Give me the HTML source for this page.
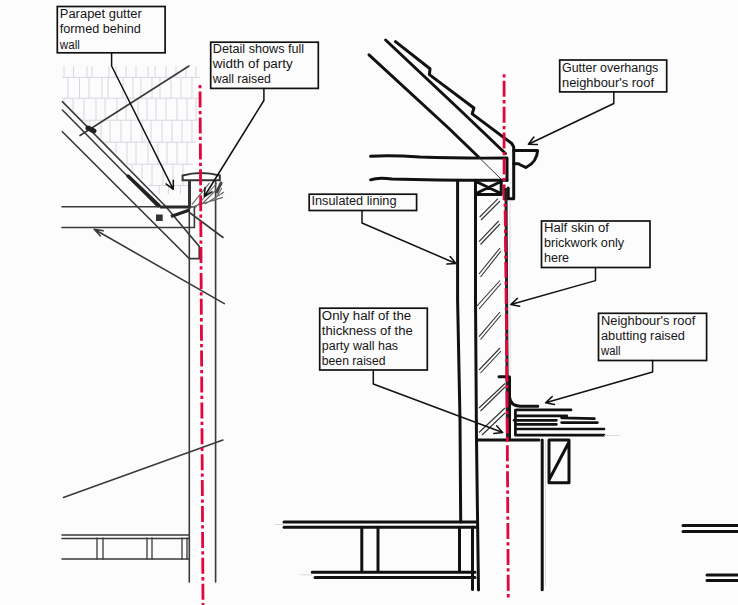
<!DOCTYPE html>
<html><head><meta charset="utf-8">
<style>
html,body{margin:0;padding:0;background:#fdfcfd;}
body{width:738px;height:605px;overflow:hidden;position:relative;}
svg{position:absolute;left:0;top:0;}
.t{font-family:"Liberation Sans",sans-serif;font-size:12.5px;fill:#151515;}
</style></head><body>
<svg width="738" height="605" viewBox="0 0 738 605">
<defs>
<clipPath id="tc"><path d="M62 60H203V200L171 207L62 101.6Z"/></clipPath>
</defs>
<rect width="738" height="605" fill="#fdfcfd"/>
<!-- tiles -->
<g clip-path="url(#tc)"><path d="M62 77.4H200M62 98.2H199M62 120.2H197M62 142.2H196M62 164.2H193M62 185.5H189M64 66V77.4M73.5 66V77.4M87 66V77.4M92 66V77.4M109 66V77.4M116 66V77.4M126 66V77.4M136 66V77.4M148 66V77.4M155 66V77.4M166 66V77.4M176 66V77.4M186 66V77.4M196 66V77.4M68 77.4V98.2M79.5 77.4V98.2M89 77.4V98.2M102 77.4V98.2M108 77.4V98.2M123 77.4V98.2M133 77.4V98.2M141 77.4V98.2M152 77.4V98.2M160 77.4V98.2M171 77.4V98.2M181 77.4V98.2M192 77.4V98.2M64 98.2V120.2M73 98.2V120.2M84 98.2V120.2M96 98.2V120.2M105 98.2V120.2M117 98.2V120.2M126 98.2V120.2M138 98.2V120.2M147 98.2V120.2M156 98.2V120.2M166 98.2V120.2M177 98.2V120.2M187 98.2V120.2M196 98.2V120.2M68 120.2V142.2M78 120.2V142.2M90 120.2V142.2M101 120.2V142.2M110 120.2V142.2M121 120.2V142.2M131 120.2V142.2M142 120.2V142.2M151 120.2V142.2M162 120.2V142.2M172 120.2V142.2M182 120.2V142.2M192 120.2V142.2M64 142.2V164.2M75 142.2V164.2M86 142.2V164.2M95 142.2V164.2M106 142.2V164.2M116 142.2V164.2M127 142.2V164.2M136 142.2V164.2M148 142.2V164.2M158 142.2V164.2M167 142.2V164.2M177 142.2V164.2M187 142.2V164.2M69 164.2V185.5M80 164.2V185.5M90 164.2V185.5M101 164.2V185.5M112 164.2V185.5M122 164.2V185.5M132 164.2V185.5M142 164.2V185.5M152 164.2V185.5M163 164.2V185.5M173 164.2V185.5M183 164.2V185.5M159.2 186V194M168.4 186V194M180.4 186V194M148 186V194" stroke="#dad5e0" stroke-width="1" fill="none"/></g>

<!-- LEFT DRAWING -->
<g stroke="#3a3a3a" stroke-width="1.6" fill="none" stroke-linecap="round">
 <path d="M80 135.5L189 66"/>
 <path d="M62.4 101.6L166 206.7L199.2 246.4V258.6H189.3"/>
 <path d="M62.4 110L157.5 206.7"/>
 <path d="M62.4 131.7L189.3 258.6"/>
 <path d="M189.5 212.5L223 237.5"/>
 <path d="M62 206.8H194.4V227.5H62"/>
 <path d="M189.3 180V582M215.6 180V582"/>
 <path d="M94.2 229.3L224.3 303.6M94.2 229.3l9 1.5M94.2 229.3l6 6.5"/>
 <path d="M63.4 497.5L222.9 440"/>
 <path d="M62 535H189M62 538.5H189M62 559H189" stroke-width="1.5"/>
 <path d="M97 538V559M103 538V559M147 538V559M152 538V559M182 538V559M187 538V559" stroke-width="1.3"/>
</g>
<path d="M182.6 180.2V175.5Q201 170.5 219.8 175.5V180.2Z" stroke="#333" stroke-width="2" fill="#fdfcfd"/>
<path d="M128 176L159 205.5" stroke="#222" stroke-width="3.5" stroke-linecap="round"/>
<path d="M160 207H190" stroke="#2a2a2a" stroke-width="3"/>
<path d="M171 216.5L189.5 210" stroke="#222" stroke-width="3.2"/>
<path d="M88 128l6 3" stroke="#222" stroke-width="5" stroke-linecap="round"/>
<rect x="156" y="214.5" width="6.7" height="6.5" fill="#333"/>
<g stroke="#666" stroke-width="1.1" fill="none">
 <path d="M191.8 204.6L209.6 182.8M195 208L217 183M200 206L222 184M191 207.3L222.9 197.4M205 204L224 192M214 201L222 188"/>
</g>
<path d="M189.5 181V208.5" stroke="#333" stroke-width="3"/>
<path d="M221 183l-4 9" stroke="#444" stroke-width="3" stroke-linecap="round"/>

<!-- red dash-dot left -->
<path d="M200 85L203 605" stroke="#e3063c" stroke-width="2.8" stroke-dasharray="16 3.3 3.3 3.3" stroke-dashoffset="19.3" fill="none"/>

<!-- RIGHT DRAWING -->
<g stroke="#111" stroke-width="3" fill="none" stroke-linecap="round" stroke-linejoin="round">
 <path d="M369 54.8L449 128.5L478.5 157"/>
 <path d="M385.6 40L460 110L505.5 153.5"/>
 <path d="M395.5 41.6L430 68.8L429.4 74.6L473.9 108L472.2 113.9L511.8 143.5L513.7 147V198.8H508.2V188"/>
 <path d="M370.6 156.3Q390 155 420 157Q460 158.5 507 158V180.3"/>
 <path d="M370.6 179.8Q378 177 392 179Q440 180.5 507 180.3"/>
 <path d="M513.7 150.5H537.6Q537 162 526 167.5Q520 165 518.4 163.7H513.7"/>
 <path d="M475.5 180.3V194.5H501.2V180.3M477 182L500 193M500 182L477 193"/>
 <path d="M457.6 180.3V300L460 420L460.7 522M475.5 194.5V300L476.5 440L478.5 590"/>
 <path d="M476.5 440H539"/>
 <path d="M499 376.7H509.5V397Q510.5 406 520 406.2H537.8"/>
 <path d="M509.5 380V438"/>
 <path d="M517 409.9H571M516.2 415.9H566.8M561.6 417.8L594.4 418.6M514 420.3H556.4M516 424.3H556.4M561.6 422.6H597.4M515.4 429H604M515.4 435.2H604M515.4 410V435.2" stroke-width="2.7"/>
 <path d="M542.2 440V589.8M549 440H569V482.7H549ZM569 442L549 480"/>
 <path d="M284 521.9H475.7M284 527.2H475.7M312.2 572.2H475M315 577.4H475M361.8 527V571M378 527V571M459.5 527V572M472.5 527V589.5"/>
 <path d="M683 525.5H738M683 531.6H738M707 575H738M707 580.6H738"/>
</g>
<path d="M478.5 157L501 179" stroke="#333" stroke-width="1"/>
<path d="M510 200V376M545.5 440V586M284 524.5H275M312 574.8H300M604 435.5H620" stroke="#cfcfd6" stroke-width="0.8"/>
<!-- hatch brick -->
<g stroke="#333" stroke-width="1.1" fill="none">
 <path d="M479.7 217L498 198.6M481 220L500 201"/>
 <path d="M479 241.7L498.7 221M480.5 244.5L500 224"/>
 <path d="M479 274L500 248M480.5 277L501 251"/>
 <path d="M477 306L500 280.5M479 309L501 283.5"/>
 <path d="M479 336.7L500 312M480.5 339.5L501 315"/>
 <path d="M479 370L500 348M480.5 373L501 351"/>
 <path d="M479 408L505 383.5M480.5 411L505 387"/>
 <path d="M479 432.5L505 408M482 435L505 413"/>
</g>
<!-- red dash-dot right -->
<path d="M504.1 74.2V200" stroke="#e3063c" stroke-width="2.8" stroke-dasharray="16 3.3 3.3 3.3" stroke-dashoffset="19.3" fill="none"/>
<path d="M506 188L506.8 330L507.5 440" stroke="#222" stroke-width="3" fill="none"/>
<path d="M505 200L506.5 330L507.3 440" stroke="#e3063c" stroke-width="2.8" stroke-dasharray="16 3.3 3.3 3.3" stroke-dashoffset="15.6" fill="none"/>
<path d="M507.3 440L508.3 598" stroke="#e3063c" stroke-width="2.8" stroke-dasharray="16 3.3 3.3 3.3" stroke-dashoffset="20.6" fill="none"/>

<!-- BOXES -->
<g stroke="#111" stroke-width="1.7" fill="#fdfcfd">
 <rect x="57.3" y="6.5" width="107.8" height="46.3"/>
 <rect x="210.7" y="42.2" width="107.6" height="46.2"/>
 <rect x="559.7" y="60" width="107" height="31.9"/>
 <rect x="309.2" y="194.2" width="107.4" height="16.3"/>
 <rect x="541.5" y="221" width="108.5" height="46.5"/>
 <rect x="319.7" y="308.2" width="107.6" height="61.8"/>
 <rect x="598.5" y="313.3" width="108.1" height="47.2"/>
</g>
<!-- LEADERS -->
<path d="M111.6 53L111.6 66L173.3 189.3M173.3 189.3l0.07 -9.00M173.3 189.3l-7.24 -5.34M263.9 88.4L263.9 100.5L204.3 196.5M204.3 196.5l7.70 -4.66M204.3 196.5l0.76 -8.97M613.8 91.9L613.8 103.5L528.4 144.2M528.4 144.2l9.00 0.24M528.4 144.2l5.48 -7.14M362 210.5L362 223L455.9 263.5M455.9 263.5l-5.75 -6.93M455.9 263.5l-8.98 0.58M595.5 267.5L595.5 280.6L510.8 304.5M510.8 304.5l8.83 1.75M510.8 304.5l6.61 -6.11M373.3 370L373.3 384L502.7 432.5M502.7 432.5l-6.07 -6.64M502.7 432.5l-8.94 1.01M652.6 360.5L652.6 372L545.6 402.8M545.6 402.8l8.84 1.71M545.6 402.8l6.58 -6.14" stroke="#111" stroke-width="1.5" fill="none" stroke-linecap="round" stroke-linejoin="round"/>
<g class="t"><text x="59.8" y="17.9" textLength="82" lengthAdjust="spacingAndGlyphs">Parapet gutter</text><text x="59.8" y="33.3" textLength="81" lengthAdjust="spacingAndGlyphs">formed behind</text><text x="59.8" y="48.8" textLength="20" lengthAdjust="spacingAndGlyphs">wall</text><text x="212.8" y="53.1" textLength="91.4" lengthAdjust="spacingAndGlyphs">Detail shows full</text><text x="212.8" y="67.7" textLength="80" lengthAdjust="spacingAndGlyphs">width of party</text><text x="212.8" y="83.2" textLength="58" lengthAdjust="spacingAndGlyphs">wall raised</text><text x="562" y="72" textLength="96.3" lengthAdjust="spacingAndGlyphs">Gutter overhangs</text><text x="562" y="87" textLength="92" lengthAdjust="spacingAndGlyphs">neighbour's roof</text><text x="311.5" y="205.3" textLength="85" lengthAdjust="spacingAndGlyphs">Insulated lining</text><text x="543.9" y="232.1" textLength="65" lengthAdjust="spacingAndGlyphs">Half skin of</text><text x="543.9" y="246.7" textLength="80.2" lengthAdjust="spacingAndGlyphs">brickwork only</text><text x="543.9" y="262.2" textLength="25.2" lengthAdjust="spacingAndGlyphs">here</text><text x="321.8" y="319.6" textLength="89.4" lengthAdjust="spacingAndGlyphs">Only half of the</text><text x="321.8" y="334.5" textLength="91" lengthAdjust="spacingAndGlyphs">thickness of the</text><text x="321.8" y="349.5" textLength="76.3" lengthAdjust="spacingAndGlyphs">party wall has</text><text x="321.8" y="364.6" textLength="63.7" lengthAdjust="spacingAndGlyphs">been raised</text><text x="601" y="324.7" textLength="94.3" lengthAdjust="spacingAndGlyphs">Neighbour's roof</text><text x="601" y="340.1" textLength="84" lengthAdjust="spacingAndGlyphs">abutting raised</text><text x="601" y="354.8" textLength="19.5" lengthAdjust="spacingAndGlyphs">wall</text></g>
</svg>
</body></html>
